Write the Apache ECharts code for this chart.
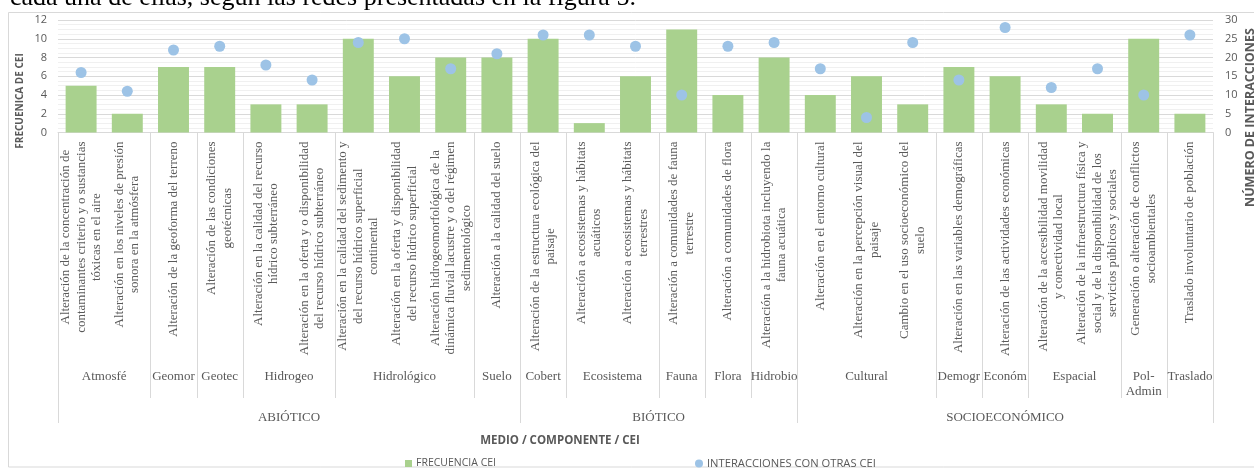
<!DOCTYPE html>
<html>
<head>
<meta charset="utf-8">
<script src="https://cdn.jsdelivr.net/npm/echarts@6/dist/echarts.min.js"></script>
<style>
  html, body { margin: 0; padding: 0; background: #fff; }
  #chart { width: 1254px; height: 468px; }
</style>
</head>
<body>
<div id="chart"></div>
<script>
// CEI (cumulative impact) categories, in axis order
const ceiLabels = [
  'Alteración de la concentración de\ncontaminantes criterio y o sustancias\ntóxicas en el aire',
  'Alteración en los niveles de presión\nsonora en la atmósfera',
  'Alteración de la geoforma del terreno',
  'Alteración de las condiciones\ngeotécnicas',
  'Alteración en la calidad del recurso\nhídrico subterráneo',
  'Alteración en la oferta y o disponibilidad\ndel recurso hídrico subterráneo',
  'Alteración en la calidad del sedimento y\ndel recurso hídrico superficial\ncontinental',
  'Alteración en la oferta y disponibilidad\ndel recurso hídrico superficial',
  'Alteración hidrogeomorfológica de la\ndinámica fluvial lacustre y o del régimen\nsedimentológico',
  'Alteración a la calidad del suelo',
  'Alteración de la estructura ecológica del\npaisaje',
  'Alteración a ecosistemas y hábitats\nacuáticos',
  'Alteración a ecosistemas y hábitats\nterrestres',
  'Alteración a comunidades de fauna\nterrestre',
  'Alteración a comunidades de flora',
  'Alteración a la hidrobiota incluyendo la\nfauna acuática',
  'Alteración en el entorno cultural',
  'Alteración en la percepción visual del\npaisaje',
  'Cambio en el uso socioeconómico del\nsuelo',
  'Alteración en las variables demográficas',
  'Alteración de las actividades económicas',
  'Alteración de la accesibilidad movilidad\ny conectividad local',
  'Alteración de la infraestructura física y\nsocial y de la disponibilidad de los\nservicios públicos y sociales',
  'Generación o alteración de conflictos\nsocioambientales',
  'Traslado involuntario de población'
];

// Frequency of each CEI (left axis)
const frecuenciaCEI = [5, 2, 7, 7, 3, 3, 10, 6, 8, 8, 10, 1, 6, 11, 4, 8, 4, 6, 3, 7, 6, 3, 2, 10, 2];

// Interactions with other CEI (right axis)
const interacciones = [16, 11, 22, 23, 18, 14, 24, 25, 17, 21, 26, 26, 23, 10, 23, 24, 17, 4, 24, 14, 28, 12, 17, 10, 26];

// Component groups: name and category count
const componentNames = ['Atmosfé', 'Geomor', 'Geotec', 'Hidrogeo', 'Hidrológico', 'Suelo', 'Cobert', 'Ecosistema', 'Fauna', 'Flora', 'Hidrobio', 'Cultural', 'Demogr', 'Económ', 'Espacial', 'Pol-\nAdmin', 'Traslado'];
const componentCounts = [2, 1, 1, 2, 3, 1, 1, 2, 1, 1, 1, 3, 1, 1, 2, 1, 1];

// Medium groups
const mediumNames = ['ABIÓTICO', 'BIÓTICO', 'SOCIOECONÓMICO'];
const mediumCounts = [10, 6, 9];

// Axis ranges
const leftAxis = { min: 0, max: 12, interval: 2 };
const rightAxis = { min: 0, max: 30, interval: 5 };

const serifFont = 'Liberation Serif, Times New Roman, serif';
const sansFont = 'Open Sans, Lato, sans-serif';
const textGray = '#595959';
const lineGray = '#D9D9D9';

// Build [start, end, level] spans for the grouped axis tiers
function spans(counts, level) {
  const out = [];
  let s = 0;
  counts.forEach(c => { out.push([s, s + c, level]); s += c; });
  return out;
}
const groupSpans = spans(componentCounts, 0).concat(spans(mediumCounts, 1));
const groupNames = componentNames.concat(mediumNames);

const chart = echarts.init(document.getElementById('chart'), null, { renderer: 'canvas' });

// Separators and names of the component / medium tiers under the CEI labels
function renderGroup(params, api) {
  const i = params.dataIndex;
  const start = api.value(0);
  const end = api.value(1);
  const level = api.value(2);
  const p0 = api.coord([start, 0]);
  const p1 = api.coord([end, 0]);
  const yb = p0[1];
  const lineLen = level === 0 ? 265.5 : 290.5;
  const ls = { stroke: lineGray, lineWidth: 1 };
  const x0 = Math.round(p0[0]) + 0.5;
  const x1 = Math.round(p1[0]) + 0.5;
  return {
    type: 'group',
    children: [
      { type: 'line', shape: { x1: x0, y1: yb, x2: x0, y2: yb + lineLen }, style: ls, silent: true },
      { type: 'line', shape: { x1: x1, y1: yb, x2: x1, y2: yb + lineLen }, style: ls, silent: true },
      {
        type: 'text',
        x: (p0[0] + p1[0]) / 2,
        y: yb + (level === 0 ? 237 : 277.5),
        silent: true,
        style: {
          text: groupNames[i],
          fill: textGray,
          font: '13px ' + serifFont,
          align: 'center',
          verticalAlign: 'top',
          lineHeight: 15
        }
      }
    ]
  };
}

const option = {
  backgroundColor: '#ffffff',
  animation: false,
  grid: { left: 58, right: 41, top: 20, bottom: 335.5, containLabel: false },
  legend: [
    {
      data: ['FRECUENCIA CEI'],
      left: 400, top: 453,
      icon: 'rect', itemWidth: 7, itemHeight: 7, itemGap: 10,
      textStyle: { color: textGray, fontFamily: sansFont, fontSize: 10.5, padding: [0, 0, 0, -1] }
    },
    {
      data: ['INTERACCIONES CON OTRAS CEI'],
      left: 690, top: 453,
      icon: 'circle', itemWidth: 8, itemHeight: 8,
      textStyle: { color: textGray, fontFamily: sansFont, fontSize: 11.2, padding: [0, 0, 0, -1] }
    }
  ],
  xAxis: [
    {
      type: 'category',
      data: ceiLabels,
      position: 'bottom',
      axisLine: { show: true, lineStyle: { color: lineGray } },
      axisTick: { show: false },
      axisLabel: {
        interval: 0,
        rotate: 90,
        margin: 9,
        color: textGray,
        fontFamily: serifFont,
        fontSize: 13,
        lineHeight: 15.5,
        formatter: v => v.split('\n').map(l => '{c|' + l + '}').join('\n'),
        rich: { c: { align: 'center', fontFamily: serifFont, fontSize: 13, color: textGray, lineHeight: 15.5 } }
      },
      splitLine: { show: false }
    },
    {
      type: 'value',
      min: 0, max: componentCounts.reduce((a, b) => a + b, 0),
      show: false,
      position: 'bottom'
    }
  ],
  yAxis: [
    {
      type: 'value',
      min: leftAxis.min, max: leftAxis.max, interval: leftAxis.interval,
      axisLine: { show: false },
      axisTick: { show: false },
      axisLabel: { color: textGray, fontFamily: sansFont, fontSize: 11, margin: 11 },
      splitLine: { show: true, lineStyle: { color: lineGray, width: 1 } },
      minorTick: { show: false, splitNumber: 4 },
      minorSplitLine: { show: true, lineStyle: { color: '#F0F0F0', width: 1 } }
    },
    {
      type: 'value',
      min: rightAxis.min, max: rightAxis.max, interval: rightAxis.interval,
      position: 'right',
      axisLine: { show: false },
      axisTick: { show: false },
      axisLabel: { color: textGray, fontFamily: sansFont, fontSize: 11, margin: 12 },
      splitLine: { show: false }
    }
  ],
  series: [
    {
      name: 'FRECUENCIA CEI',
      type: 'bar',
      xAxisIndex: 0, yAxisIndex: 0,
      data: frecuenciaCEI,
      barCategoryGap: '33%',
      itemStyle: { color: '#A9D18E' },
      z: 2
    },
    {
      name: 'INTERACCIONES CON OTRAS CEI',
      type: 'scatter',
      xAxisIndex: 0, yAxisIndex: 1,
      data: interacciones,
      symbol: 'circle',
      symbolSize: 11,
      itemStyle: { color: '#9DC3E6', opacity: 1 },
      z: 3
    },
    {
      type: 'custom',
      xAxisIndex: 1, yAxisIndex: 0,
      data: groupSpans,
      renderItem: renderGroup,
      clip: false,
      silent: true,
      z: 1
    }
  ],
  graphic: [
    {
      type: 'text', x: 10, y: -2, silent: true,
      style: { text: 'cada una de ellas, según las redes presentadas en la figura 5.', fill: '#000', font: '26px ' + serifFont, verticalAlign: 'middle' }
    },
    {
      type: 'rect', silent: true, z: -1,
      shape: { x: 8.5, y: 12.5, width: 1260, height: 454.5 },
      style: { fill: 'none', stroke: '#D9D9D9', lineWidth: 1 }
    },
    {
      type: 'text', silent: true, x: 20, y: 101, rotation: Math.PI / 2,
      style: { text: 'FRECUENICA DE CEI', fill: textGray, font: 'bold 10px ' + sansFont, align: 'center', verticalAlign: 'middle' }
    },
    {
      type: 'text', silent: true, x: 1250, y: 207, rotation: Math.PI / 2,
      style: { text: 'NÚMERO DE INTERACCIONES', fill: textGray, font: 'bold 12.5px ' + sansFont, align: 'left', verticalAlign: 'middle' }
    },
    {
      type: 'text', silent: true, x: 560, y: 441,
      style: { text: 'MEDIO / COMPONENTE / CEI', fill: textGray, font: 'bold 11.5px ' + sansFont, align: 'center', verticalAlign: 'middle' }
    }
  ]
};

chart.setOption(option);
</script>
</body>
</html>
